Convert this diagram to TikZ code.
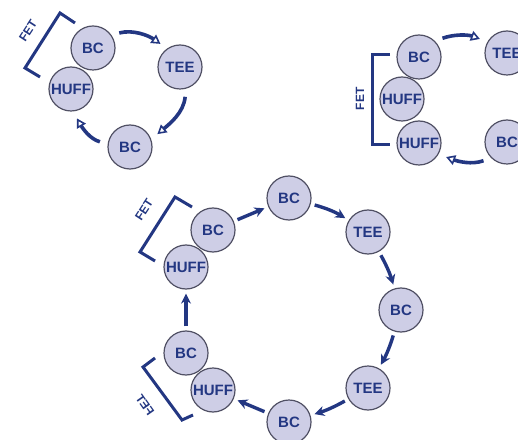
\documentclass[tikz,border=0pt]{standalone}
\usepackage{fontspec}
\setmainfont{Liberation Sans}
\usepackage{graphicx}
\usetikzlibrary{arrows.meta,positioning}
\definecolor{navy}{RGB}{35,55,130}
\definecolor{lavender}{RGB}{206,206,230}
\definecolor{rim}{RGB}{80,80,100}

\begin{document}
\begin{tikzpicture}[
        x=0.5pt, y=0.5pt,
        every node/.style={font=\fontsize{7.5}{9}\selectfont\bfseries, text=navy},
        unit/.style={circle, draw=rim, line width=0.6pt, fill=lavender, minimum size=22pt, inner sep=0pt},
        flow/.style={draw=navy, line width=1.7pt, -{Stealth[length=5pt,width=5pt]}, shorten <=2pt, shorten >=2pt},
        loopflow/.style={draw=navy, line width=1.8pt, -{Triangle[open,length=4.5pt,width=5pt,line width=0.8pt]}, shorten <=4pt, shorten >=4pt},
        bracket/.style={draw=navy, line width=1.5pt},
        fet/.style={font=\fontsize{6}{7}\selectfont\bfseries, inner sep=0.5pt}
    ]
  \clip (0,0) rectangle (518,439);

  % Nodes, first cycle
  \node[unit] (bcA)   at (93,391)  {BC};
  \node[unit] (teeA)  at (180,372) {TEE};
  \node[unit] (huffA) at (71,350)  {HUFF};
  \node[unit] (bcB)   at (130,292) {BC};

  \draw[bracket] (75,416) -- (60,426) -- (25,371) -- (40,362);
  \node[fet, rotate=57] (fetA) at (28,408) {FET};

  \draw[loopflow] (bcA.35) to[out=15,in=145] (teeA.125);
  \draw[loopflow] (teeA.-75) to[out=-95,in=40] (bcB.20);
  \draw[loopflow] (bcB.172) to[out=165,in=-60] (huffA.-85);

  % Nodes, second cycle
  \node[unit] (bcC)   at (419,382) {BC};
  \node[unit] (teeB)  at (507,386) {TEE};
  \node[unit] (bcD)   at (507,297) {BC};
  \node[unit] (huffB) at (402,340) {HUFF};
  \node[unit] (huffC) at (419,296) {HUFF};

  \draw[bracket] (390,384) -- (372,384) -- (372,294) -- (390,294);
  \node[fet, rotate=90] (fetB) at (360,340) {FET};

  \draw[loopflow] (bcC.45) to[out=20,in=160] (teeB.150);
  \draw[loopflow] (bcD.-135) to[out=-160,in=-20] (huffC.-30);

  % Nodes, third cycle
  \node[unit] (bcE)   at (213,209) {BC};
  \node[unit] (huffD) at (186,172) {HUFF};
  \node[unit] (bcF)   at (289,241) {BC};
  \node[unit] (teeC)  at (368,207) {TEE};
  \node[unit] (bcG)   at (401,129) {BC};
  \node[unit] (teeD)  at (368,51)  {TEE};
  \node[unit] (bcH)   at (289,17)  {BC};
  \node[unit] (bcI)   at (186,86)  {BC};
  \node[unit] (huffE) at (213,49)  {HUFF};

  \draw[bracket] (192,232) -- (175,242) -- (140,187) -- (155,178);
  \node[fet, rotate=57] (fetC) at (144,229) {FET};
  \draw[bracket] (155,81) -- (143,72) -- (182,19) -- (193,24);
  \node[fet, rotate=-55] (fetD) at (145,34) {\scalebox{-1}[1]{FET}};

  \draw[flow] (bcE) -- (bcF);
  \draw[flow] (bcF) to[bend left=8] (teeC);
  \draw[flow] (teeC) to[bend left=6] (bcG);
  \draw[flow] (bcG) to[bend left=6] (teeD);
  \draw[flow] (teeD) to[bend left=6] (bcH);
  \draw[flow] (bcH) -- (huffE);
  \draw[flow] (bcI) -- (huffD);
\end{tikzpicture}
\end{document}
